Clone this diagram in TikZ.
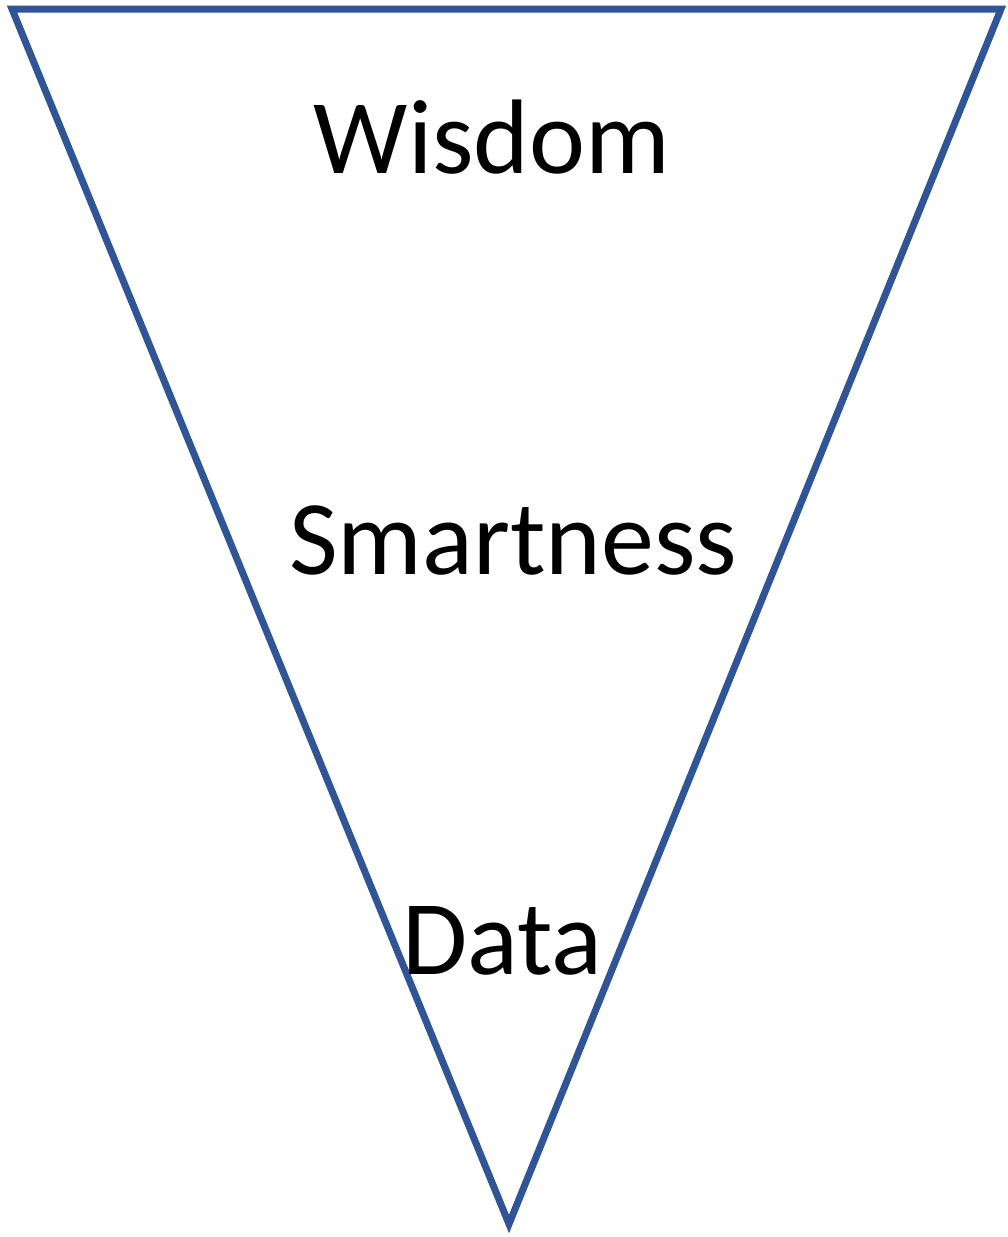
\documentclass[tikz,border=0pt]{standalone}
\usepackage{fontspec}
\setmainfont{Carlito}
\definecolor{tri}{RGB}{47,85,151}
\begin{document}
\begin{tikzpicture}[x=1pt,y=-1pt,
  lbl/.style={anchor=base,inner sep=0pt,font=\fontsize{106}{110}\selectfont,text=black}]
\useasboundingbox (0,0) rectangle (1008,1237);
\coordinate (tl) at (12,9);
\coordinate (tr) at (1001,9);
\coordinate (bt) at (509,1224);
\draw[tri,line width=7pt,line join=miter] (tl) -- (tr) -- (bt) -- cycle;
\node[lbl] (wisdom) at (492,173) {Wisdom};
\node[lbl] (smart) at (513,574) {Smartness};
\node[lbl] (data) at (502,974) {Data};
\end{tikzpicture}
\end{document}
